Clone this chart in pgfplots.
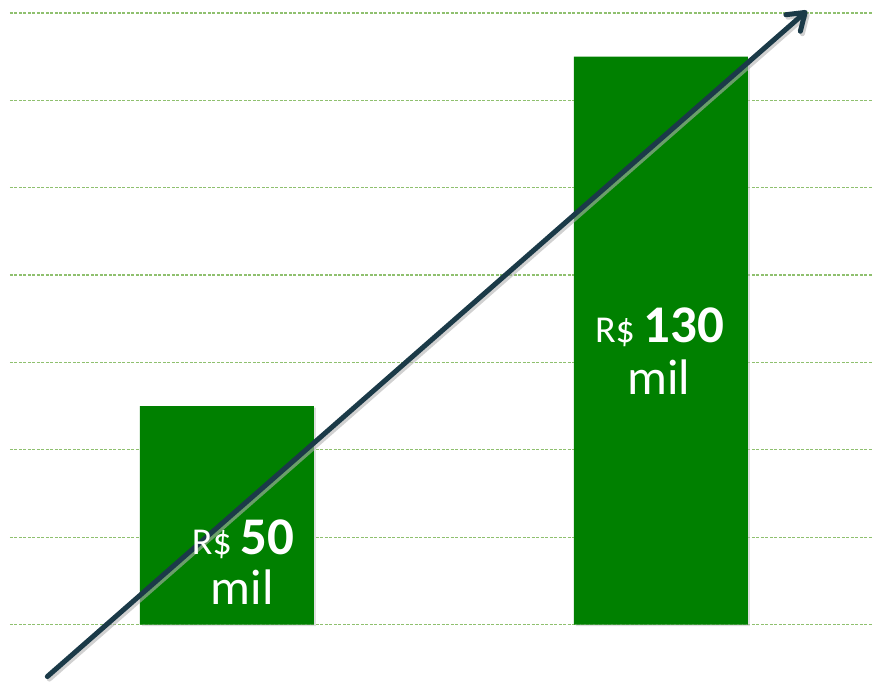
\documentclass[border=0pt]{standalone}
\usepackage{pgfplots}
\pgfplotsset{compat=1.18}
\usepackage{fontspec}
\setmainfont{Carlito}
\usetikzlibrary{arrows.meta}
\definecolor{bargreen}{HTML}{008000}
\definecolor{gridgreen}{HTML}{8FC06F}
\definecolor{arrowc}{HTML}{1B3A48}
\begin{document}
\begin{tikzpicture}
\begin{axis}[
  scale only axis,
  width=864pt, height=612pt,
  xmin=0.5, xmax=2.49,
  ymin=0, ymax=140,
  ytick={0,20,...,140},
  yticklabels={},
  xtick=\empty,
  major tick length=0pt,
  ymajorgrids,
  grid style={gridgreen, line width=1.2pt, dash pattern=on 3pt off 1.5pt},
  axis line style={draw=none},
  clip=false,
]
\addplot[ybar, bar width=174pt, fill=black!25, draw=none, opacity=0.5, shift={(2pt,-1.5pt)}] coordinates {(1,50) (2,130)};
\addplot[ybar, bar width=174pt, fill=bargreen, draw=none] coordinates {(1,50) (2,130)};
\draw[black!30, opacity=0.6, line width=5pt, line cap=round, shift={(2pt,-2.5pt)}, arrows={-Straight Barb[length=16pt,width=22pt,round]}] (axis cs:0.586,-11.9) -- (axis cs:2.337,140.5);
\draw[arrowc, line width=5pt, line cap=round, arrows={-Straight Barb[length=16pt,width=22pt,round]}] (axis cs:0.586,-11.9) -- (axis cs:2.337,140.5);
\node[white, anchor=base, inner sep=0pt] at (axis cs:1.037,16) {\fontsize{38}{40}\selectfont R\$ \fontsize{53}{55}\selectfont\bfseries 50};
\node[white, anchor=base, inner sep=0pt] at (axis cs:1.035,4.6) {\fontsize{50}{50}\selectfont mil};
\node[white, anchor=base, inner sep=0pt] at (axis cs:1.997,64.6) {\fontsize{38}{40}\selectfont R\$ \fontsize{53}{55}\selectfont\bfseries 130};
\node[white, anchor=base, inner sep=0pt] at (axis cs:1.995,52.6) {\fontsize{50}{50}\selectfont mil};
\path (rel axis cs:0,0) ++(-10pt,-56pt) coordinate (bl);
\path (rel axis cs:1,1) ++(0pt,13pt) coordinate (tr);
\end{axis}
\path[use as bounding box] (bl) rectangle (tr);
\end{tikzpicture}
\end{document}
